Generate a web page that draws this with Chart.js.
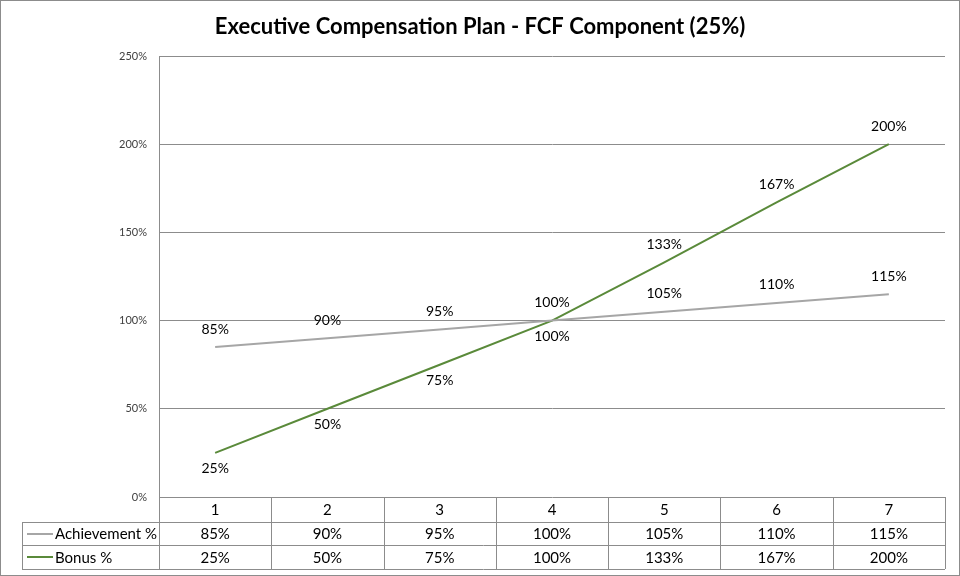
<!DOCTYPE html>
<html>
<head>
<meta charset="utf-8">
<script src="https://cdn.jsdelivr.net/npm/chart.js@4"></script>
<style>
  html, body { margin: 0; padding: 0; background: #fff; }
  #wrap { width: 960px; height: 576px; position: relative; }
</style>
</head>
<body>
<div id="wrap"><canvas id="fcfChart" width="960" height="576"></canvas></div>
<script>
/* data */
const chartTitle = "Executive Compensation Plan - FCF Component (25%)";
const categories = ["1", "2", "3", "4", "5", "6", "7"];
const achievementPct = [85, 90, 95, 100, 105, 110, 115];
const bonusPct = [25, 50, 75, 100, 133, 167, 200];
const seriesNames = ["Achievement %", "Bonus %"];
const yMax = 250;
const yStep = 50;

const FONT = "Lato, 'Open Sans', sans-serif";
const GRAY = "#a6a6a6";
const GREEN = "#5a8a3a";
const LINE = "#8c8c8c";

/* title, point labels and the data table under the plot */
const extras = {
  id: "extras",
  afterDraw(chart) {
    const ctx = chart.ctx;
    const xs = chart.scales.x;
    const area = chart.chartArea;
    ctx.save();

    // title
    ctx.fillStyle = "#000";
    ctx.font = "bold 22px " + FONT;
    ctx.textAlign = "center";
    ctx.textBaseline = "middle";
    ctx.fillText(chartTitle, 480, 27);

    // point labels
    ctx.font = "14px " + FONT;
    chart.data.datasets.forEach((ds, di) => {
      const meta = chart.getDatasetMeta(di);
      meta.data.forEach((pt, i) => {
        const v = ds.data[i];
        let dy = -18;
        if (di === 1 && v <= 100) dy = 16;
        ctx.fillText(v + "%", pt.x, pt.y + dy);
      });
    });

    // table
    const rowTop = area.bottom;
    const rowH = [25, 23, 24];
    const y1 = rowTop + rowH[0];
    const y2 = y1 + rowH[1];
    const y3 = y2 + rowH[2];
    const left = 22;
    const right = area.right;
    const colW = (xs.right - xs.left) / categories.length;

    ctx.strokeStyle = LINE;
    ctx.lineWidth = 1;
    ctx.beginPath();
    // horizontal rules
    ctx.moveTo(area.left, y1 + 0.5); ctx.lineTo(right, y1 + 0.5);
    ctx.moveTo(left, y1 + 0.5); ctx.lineTo(area.left, y1 + 0.5);
    ctx.moveTo(left, y2 + 0.5); ctx.lineTo(right, y2 + 0.5);
    ctx.moveTo(left, y3 + 0.5); ctx.lineTo(right, y3 + 0.5);
    // verticals
    ctx.moveTo(left + 0.5, y1); ctx.lineTo(left + 0.5, y3);
    for (let i = 0; i <= categories.length; i++) {
      const x = Math.round(xs.left + colW * i) + 0.5;
      ctx.moveTo(x, rowTop); ctx.lineTo(x, y3);
    }
    ctx.stroke();

    ctx.fillStyle = "#000";
    ctx.font = "15px " + FONT;
    ctx.textAlign = "center";
    categories.forEach((c, i) => {
      const x = xs.getPixelForValue(i);
      ctx.fillText(c, x, rowTop + rowH[0] / 2 + 1);
      ctx.fillText(achievementPct[i] + "%", x, y1 + rowH[1] / 2 + 1);
      ctx.fillText(bonusPct[i] + "%", x, y2 + rowH[2] / 2 + 1);
    });

    // legend keys in the row headers
    [[GRAY, y1 + rowH[1] / 2], [GREEN, y2 + rowH[2] / 2]].forEach((k, i) => {
      ctx.strokeStyle = k[0];
      ctx.lineWidth = 2;
      ctx.beginPath();
      ctx.moveTo(27, Math.round(k[1]));
      ctx.lineTo(53, Math.round(k[1]));
      ctx.stroke();
      ctx.textAlign = "left";
      ctx.fillStyle = "#000";
      ctx.fillText(seriesNames[i], 55, k[1] + 1);
    });

    // outer border
    ctx.strokeStyle = LINE;
    ctx.lineWidth = 1;
    ctx.strokeRect(0.5, 0.5, 959, 575);
    ctx.restore();
  }
};

new Chart(document.getElementById("fcfChart"), {
  type: "line",
  data: {
    labels: categories,
    datasets: [
      {
        label: seriesNames[0],
        data: achievementPct,
        borderColor: GRAY,
        borderWidth: 2,
        pointRadius: 0,
        tension: 0
      },
      {
        label: seriesNames[1],
        data: bonusPct,
        borderColor: GREEN,
        borderWidth: 2,
        pointRadius: 0,
        tension: 0
      }
    ]
  },
  options: {
    responsive: false,
    animation: false,
    events: [],
    layout: { padding: { left: 0, right: 15, top: 56, bottom: 79 } },
    plugins: {
      legend: { display: false },
      title: { display: false },
      tooltip: { enabled: false }
    },
    scales: {
      x: {
        type: "category",
        offset: true,
        display: false
      },
      y: {
        min: 0,
        max: yMax,
        afterFit(scale) { scale.width = 159; },
        border: { display: true, color: LINE, width: 1 },
        grid: { color: LINE, drawTicks: false },
        ticks: {
          stepSize: yStep,
          padding: 12,
          color: "#404040",
          font: { family: FONT, size: 11 },
          callback: (v) => v + "%"
        }
      }
    }
  },
  plugins: [extras]
});
</script>
</body>
</html>
